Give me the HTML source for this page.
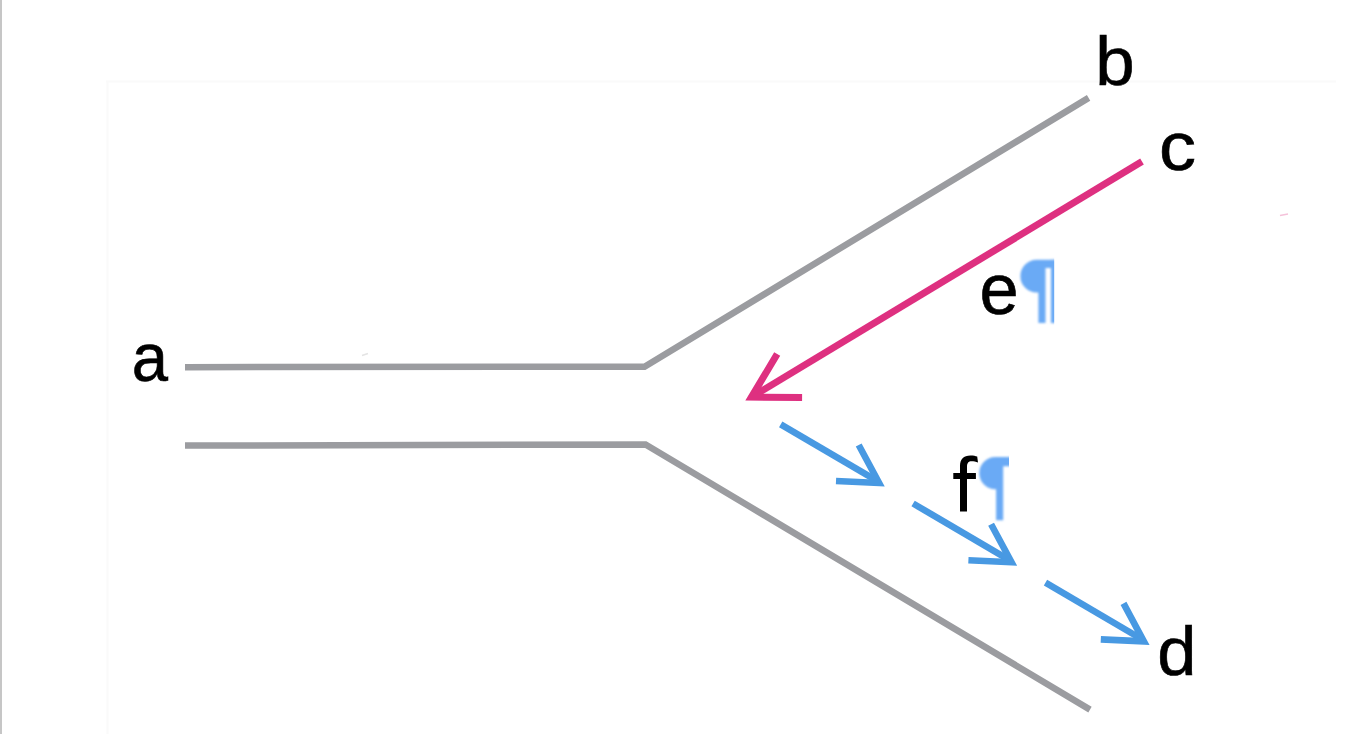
<!DOCTYPE html>
<html><head><meta charset="utf-8">
<style>
html,body{margin:0;padding:0;background:#fff;width:1346px;height:734px;overflow:hidden}
svg{position:absolute;left:0;top:0}
text{font-family:"Liberation Sans",sans-serif;fill:#000;stroke:#000;stroke-width:0.9}
</style></head><body>
<svg width="1346" height="734" viewBox="0 0 1346 734">
<defs>
<filter id="bl" x="-20%" y="-20%" width="140%" height="140%"><feGaussianBlur stdDeviation="0.8"/></filter>
<clipPath id="ce"><rect x="1000" y="250" width="54.2" height="80"/></clipPath>
<clipPath id="cf"><rect x="970" y="450" width="39" height="80"/></clipPath>
<g id="ba">
<line x1="780.7" y1="424.3" x2="875" y2="479.6"/>
<polyline points="858.7,445 879.1,483.02 836,481"/>
</g>
</defs>
<rect x="0" y="0" width="2" height="734" fill="#c6c6c6"/>
<path d="M106,81.5 H1336 M107.5,82 V734" stroke="#fafafa" stroke-width="2" fill="none"/>
<path d="M1280,215.5 L1288,214" stroke="#f5c2da" stroke-width="1.5" fill="none"/>
<path d="M362,355.5 L368,353.5" stroke="#e4e4e4" stroke-width="1.5" fill="none"/>
<!-- grey channel lines -->
<polyline points="185,367.2 644.5,366.7 1088.6,97.9" fill="none" stroke="#9b9ca0" stroke-width="6.5" stroke-linejoin="miter"/>
<polyline points="185,445.6 645.5,444.4 1090,709.6" fill="none" stroke="#9b9ca0" stroke-width="6.5" stroke-linejoin="miter"/>
<!-- magenta arrow -->
<line x1="1142" y1="161.5" x2="755" y2="395" stroke="#de3080" stroke-width="7"/>
<polyline points="777.2,354 751.45,397.13 802.1,397.4" fill="none" stroke="#de3080" stroke-width="7" stroke-linejoin="miter" stroke-miterlimit="10"/>
<!-- blue dashed arrows -->
<g fill="none" stroke="#4899e2" stroke-width="6.6" stroke-linejoin="miter" stroke-miterlimit="10">
<use href="#ba"/>
<use href="#ba" transform="translate(132.4,79.2)"/>
<use href="#ba" transform="translate(264.8,158.4)"/>
</g>
<!-- labels -->
<text transform="translate(131.83,381.32) scale(0.6521,0.6917)" font-size="100">a</text>
<text transform="translate(1095.28,84.94) scale(0.7082,0.6774)" font-size="100">b</text>
<text transform="translate(1158.96,170.32) scale(0.7400,0.6917)" font-size="100">c</text>
<text transform="translate(1157.34,674.63) scale(0.7049,0.6808)" font-size="100">d</text>
<text transform="translate(979.41,313.68) scale(0.7033,0.7301)" font-size="100">e</text>
<path d="M960,511.5 L960,466 C960,459 963.5,455.4 970.5,455.4 C973.5,455.4 975.5,455.8 977.2,456.6 L978,462.4 C976,461.7 973.5,461.3 971.5,461.3 C968.5,461.3 967,463 967,467 L967,511.5 Z M953.3,473.1 H975.9 V479 H953.3 Z" fill="#000"/>
<!-- pilcrows -->
<g clip-path="url(#ce)"><g fill="#6aaaf5" filter="url(#bl)">
<path d="M1036.75,259.8 H1058 V268 H1045.5 V323.1 H1038.4 V292.5 H1036.75 A16.35,16.35 0 0 1 1036.75,259.8 Z"/>
<rect x="1050.9" y="259.8" width="7" height="63.3"/>
</g>
</g><g clip-path="url(#cf)"><g fill="#6aaaf5" filter="url(#bl)">
<path d="M995.3,457.1 H1014 V466.3 H1003.2 V520.3 H996.1 V489.2 H995.3 A16,16.05 0 0 1 995.3,457.1 Z"/>
</g></g>
</svg>
</body></html>
